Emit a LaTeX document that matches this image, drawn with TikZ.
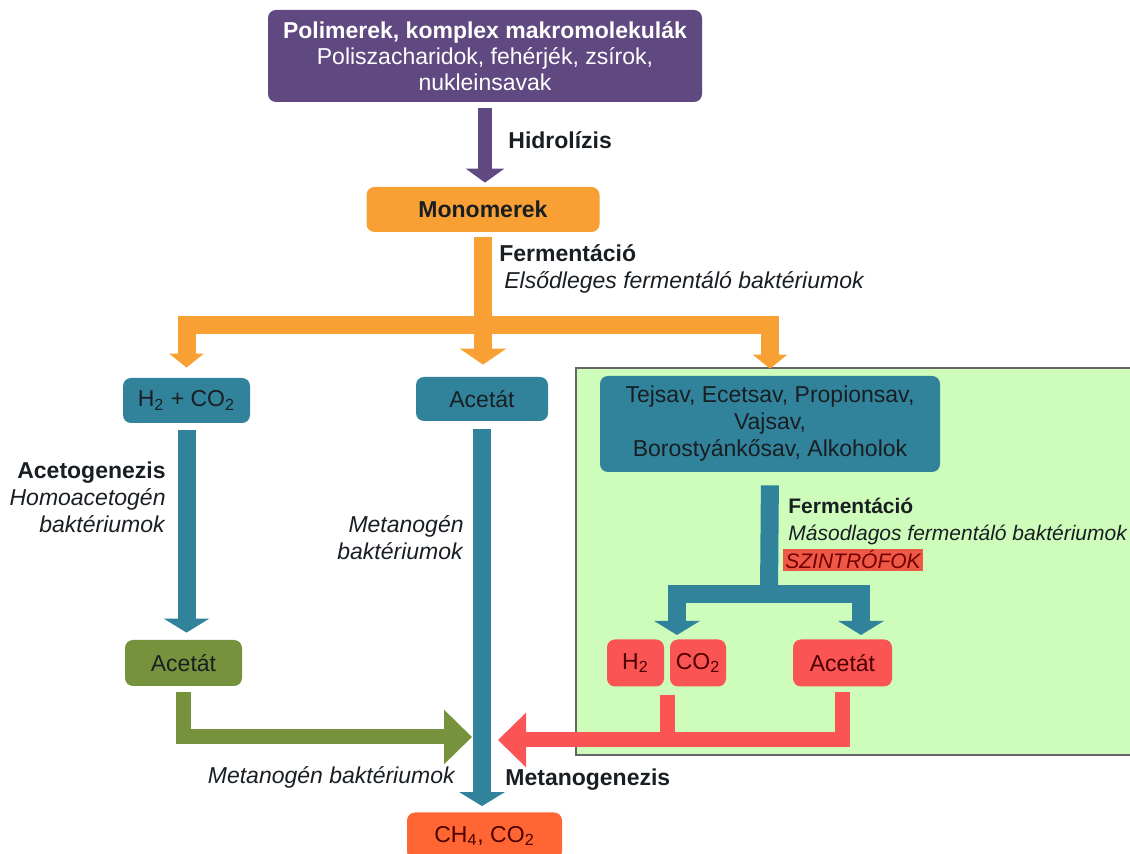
\documentclass[tikz,border=0pt]{standalone}
\usepackage{fontspec}
\setmainfont{Liberation Sans}
\usetikzlibrary{arrows.meta,positioning,calc}
\definecolor{polypurple}{RGB}{96,73,128}
\definecolor{monoorange}{RGB}{248,160,52}
\definecolor{acidteal}{RGB}{49,131,155}
\definecolor{aceolive}{RGB}{119,146,60}
\definecolor{synred}{RGB}{250,84,84}
\definecolor{synmark}{RGB}{238,88,70}
\definecolor{gasorange}{RGB}{255,102,51}
\definecolor{zonegreen}{RGB}{206,252,186}
\definecolor{darktext}{RGB}{25,30,35}

\begin{document}
\begin{tikzpicture}
[x=0.5pt,y=-0.5pt,
every node/.style={font=\fontsize{11.5}{13.5}\selectfont},
%
box/.style={rounded corners=4pt,inner sep=0pt,align=center,text=darktext},
polybox/.style={box,fill=polypurple,text=white,font=\fontsize{11.5}{13}\selectfont},
monobox/.style={box,fill=monoorange},
tealbox/.style={box,fill=acidteal},
olivebox/.style={box,fill=aceolive},
redbox/.style={box,fill=synred,text=black!70!red},
gasbox/.style={box,fill=gasorange,text=black!70!red},
lbl/.style={inner sep=0pt,text=darktext},
small/.style={font=\fontsize{10.5}{13.5}\selectfont},
%
ptip/.tip={Triangle[width=19pt,length=7pt]},
otip/.tip={Triangle[width=17pt,length=7pt]},
obig/.tip={Triangle[width=23pt,length=8pt]},
ttip/.tip={Triangle[width=22.5pt,length=7pt]},
gtip/.tip={Triangle[width=26.5pt,length=14pt]},
flow/.style={line join=miter},
purpleflow/.style={flow,line width=7pt,draw=polypurple},
orangeflow/.style={flow,line width=9pt,draw=monoorange},
tealflow/.style={flow,line width=9pt,draw=acidteal},
oliveflow/.style={flow,line width=7.5pt,draw=aceolive},
redflow/.style={flow,line width=7.5pt,draw=synred}]
%
\useasboundingbox (0,0) rectangle (1130,854);
%
% zone of the syntrophic bacteria
\draw[fill=zonegreen,draw=black!60,line width=1pt] (576,368) rectangle (1140,755);
%
% boxes
\node (poly) [polybox,minimum width=217pt,minimum height=46pt] at (485,56)
  {\textbf{Polimerek, komplex makromolekulák}\\Poliszacharidok, fehérjék, zsírok,\\nukleinsavak};
\node (mono) [monobox,minimum width=116.5pt,minimum height=22.5pt] at (483,209.5) {\textbf{Monomerek}};
\node (hco) [tealbox,minimum width=63.5pt,minimum height=22.5pt] at (186.5,400.5) {H\textsubscript{2} + CO\textsubscript{2}};
\node (acet1) [tealbox,minimum width=66pt,minimum height=22pt] at (482,399) {Acetát};
\node (acids) [tealbox,minimum width=170pt,minimum height=48pt] at (770,424)
  {Tejsav, Ecetsav, Propionsav,\\Vajsav,\\Borostyánkősav, Alkoholok};
\node (acet2) [olivebox,minimum width=58.5pt,minimum height=23pt] at (183.5,663) {Acetát};
\node (h2) [redbox,minimum width=28.5pt,minimum height=23.5pt] at (635.5,663) {H\textsubscript{2}};
\node (co2) [redbox,minimum width=28pt,minimum height=23.5pt] at (698,663) {CO\textsubscript{2}};
\node (acet3) [redbox,minimum width=49.5pt,minimum height=23.5pt] at (842.5,663) {Acetát};
\node (ch4) [gasbox,minimum width=77.5pt,minimum height=23.5pt] at (484.5,836) {CH\textsubscript{4}, CO\textsubscript{2}};
%
% labels
\node (hidro) [lbl,anchor=west] at (508,140) {\textbf{Hidrolízis}};
\node (ferm1) [lbl,anchor=west,align=left] at (499,268.5)
  {\textbf{Fermentáció}\\\hspace{2.5pt}\textit{Elsődleges fermentáló baktériumok}};
\node (aceto) [lbl,anchor=east,align=right] at (166,497)
  {\textbf{Acetogenezis}\\\textit{Homoacetogén}\\\textit{baktériumok}};
\node (metbak1) [lbl,anchor=east,align=right] at (464,538) {\textit{Metanogén}\\\textit{baktériumok}};
\node (ferm2) [lbl,small,anchor=west,align=left] at (788,521.5)
  {\textbf{Fermentáció}\\\textit{Másodlagos fermentáló baktériumok}};
\node (szin) [small,anchor=west,fill=synmark,inner sep=0pt,minimum width=70pt,minimum height=11pt,
  text=black!55!red] at (783,560) {\textit{SZINTRÓFOK}};
\node (metbak2) [lbl,anchor=east] at (456,777) {\textit{Metanogén baktériumok}};
\node (metgen) [lbl,anchor=west] at (505,780) {\textbf{Metanogenezis}};
%
% junctions
\coordinate (jo) at (483,325);
\coordinate (fj) at (769,594);
\coordinate (fl) at (677,640);
\coordinate (fr) at (861,640);
\coordinate (gend) at (472,737);
\coordinate (rend) at (498,740);
\coordinate (gap) at ($(h2.south east)!.5!(co2.south west)$);
%
% flows
\draw[purpleflow,-ptip,shorten <=3pt,shorten >=2pt] (poly.south) -- (poly.south |- mono.north);
\draw[orangeflow,-obig,shorten <=2.5pt,shorten >=6pt] (mono.south) -- (mono.south |- acet1.north);
\draw[orangeflow,otip-otip,shorten <=5pt,shorten >=3.5pt] (hco.north) |- (jo) -| (acids.north);
%
\draw[tealflow,-ttip,shorten <=3.5pt,shorten >=3.5pt] (hco.south) -- (hco.south |- acet2.north);
\draw[tealflow,-ttip,shorten <=4pt,shorten >=3pt] (acet1.south) -- (acet1.south |- ch4.north);
\draw[tealflow,shorten <=6.5pt] (acids.south) -- (fj);
\draw[tealflow,ttip-ttip,shorten <=2.5pt,shorten >=2.5pt] (fl) |- (fj) -| (fr);
%
\draw[oliveflow,-gtip,shorten <=3pt] (acet2.south) |- (gend);
\draw[redflow,-gtip,shorten <=2.5pt] (acet3.south) |- (rend);
\draw[redflow,shorten <=4pt] (gap) -- (gap |- rend);
\end{tikzpicture}
\end{document}
